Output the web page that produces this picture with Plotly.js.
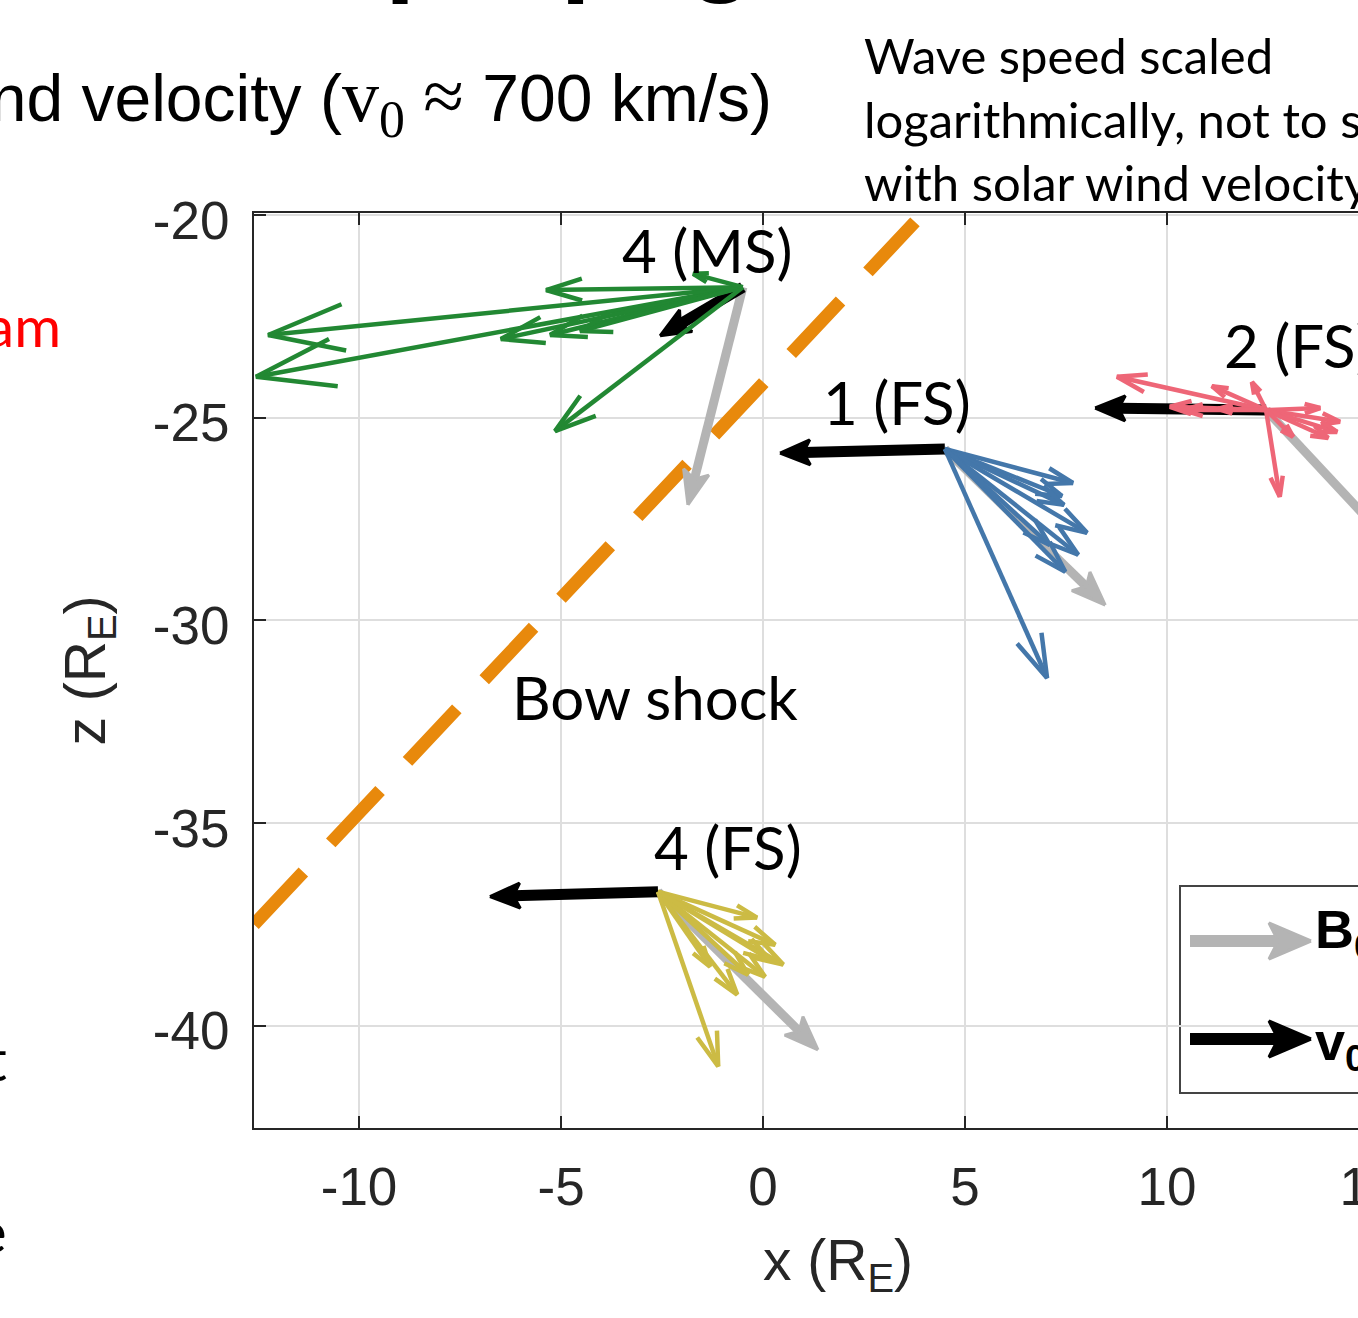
<!DOCTYPE html>
<html><head><meta charset="utf-8">
<script src="https://cdn.plot.ly/plotly-3.0.1.min.js"></script>
<style>html,body{margin:0;padding:0;overflow:hidden;background:#fff}#chart{width:1500px;height:1318px}</style>
</head><body><div id="chart"></div>
<script>
// ---------------- data ----------------
const groupLabels = ['4 (MS)', '1 (FS)', '2 (FS)', '4 (FS)'];
const originX = [-0.5, 4.5, 12.45, -2.6];
const originZ = [-21.78, -25.77, -24.81, -36.69];
const v0TipX = [-2.55, 0.42, 8.22, -6.76];
const v0TipZ = [-22.98, -25.87, -24.76, -36.81];
const bTipX = [-1.86, 8.47, 16.14, 1.36];
const bTipZ = [-27.15, -29.62, -28.75, -40.59];

const ms4WaveX = [-12.55, -12.25, -6.49, -5.27, -4.53, -5.37, -5.15, -1.73];
const ms4WaveZ = [-23.99, -22.96, -23.06, -22.96, -22.86, -21.85, -25.33, -21.45];
const fs1WaveX = [7.67, 7.40, 7.45, 8.02, 7.80, 7.48, 7.10, 7.03];
const fs1WaveZ = [-26.61, -26.93, -27.15, -27.84, -28.38, -28.80, -28.14, -31.42];
const fs2WaveX = [8.76, 11.11, 12.10, 10.07, 10.40, 11.26, 13.79, 14.28, 14.21, 13.99, 13.12, 12.79];
const fs2WaveZ = [-23.99, -24.22, -24.12, -24.73, -24.81, -24.78, -24.76, -25.10, -25.35, -25.50, -25.47, -26.95];
const fs4WaveX = [-0.15, 0.30, 0.50, 0.05, -0.37, -0.64, -1.31, 0.17, -1.11];
const fs4WaveZ = [-37.33, -38.0, -38.49, -38.79, -38.74, -39.23, -38.54, -38.37, -41.0];

const bowX = [-12.6, 3.76];
const bowZ = [-37.5, -20.17];

const xTickVals = [-10, -5, 0, 5, 10, 15];
const xTickText = ['-10', '-5', '0', '5', '10', '15'];
const yTickVals = [-40, -35, -30, -25, -20];
const yTickText = ['-40', '-35', '-30', '-25', '-20'];

const waveColors = ['#228833', '#4477AA', '#EE6677', '#CCBB44'];

// ---------------- geometry helpers ----------------
const W = 1500, H = 1318;
const M = {l: 254, r: 78, t: 213, b: 190};
const xRange = [-12.6, 16.31];
const yRange = [-42.52, -19.95];
const plotW = W - M.l - M.r, plotH = H - M.t - M.b;
const kx = plotW / (xRange[1] - xRange[0]);
const ky = plotH / (yRange[1] - yRange[0]);
const pxToX = px => xRange[0] + (px - M.l) / kx;
const pyToZ = py => yRange[1] - (py - M.t) / ky;
const px2paperX = px => (px - M.l) / plotW;
const py2paperY = py => (H - M.b - py) / plotH;

function thinArrowTrace(ox, oz, tx, tz, color, width) {
  const xs = [], ys = [];
  const a = 17 * Math.PI / 180;
  for (let i = 0; i < tx.length; i++) {
    const dx = (tx[i] - ox) * kx, dy = (tz[i] - oz) * ky;
    const L = Math.hypot(dx, dy);
    const ux = dx / L, uy = dy / L;
    const h = 0.15 * L + 8;
    const bx = -ux, by = -uy;
    const r1x = bx * Math.cos(a) - by * Math.sin(a), r1y = bx * Math.sin(a) + by * Math.cos(a);
    const r2x = bx * Math.cos(-a) - by * Math.sin(-a), r2y = bx * Math.sin(-a) + by * Math.cos(-a);
    xs.push(ox, tx[i], null, tx[i] + h * r1x / kx, tx[i], tx[i] + h * r2x / kx, null);
    ys.push(oz, tz[i], null, tz[i] + h * r1y / ky, tz[i], tz[i] + h * r2y / ky, null);
  }
  return {type: 'scatter', mode: 'lines', x: xs, y: ys, line: {color: color, width: width},
          hoverinfo: 'skip', showlegend: false};
}

function thickArrowTraces(ox, oz, tx, tz, color, shaftW, headL, headW) {
  const dx = (tx - ox) * kx, dy = (tz - oz) * ky;
  const L = Math.hypot(dx, dy);
  const ux = dx / L, uy = dy / L;
  const pxv = -uy, pyv = ux;
  const baseX = tx - headL * ux / kx, baseZ = tz - headL * uy / ky;
  const notchX = tx - 0.78 * headL * ux / kx, notchZ = tz - 0.78 * headL * uy / ky;
  const w1x = baseX + headW / 2 * pxv / kx, w1z = baseZ + headW / 2 * pyv / ky;
  const w2x = baseX - headW / 2 * pxv / kx, w2z = baseZ - headW / 2 * pyv / ky;
  const shaft = {type: 'scatter', mode: 'lines', x: [ox, notchX], y: [oz, notchZ],
    line: {color: color, width: shaftW}, hoverinfo: 'skip', showlegend: false};
  const head = {type: 'scatter', mode: 'lines', x: [tx, w1x, notchX, w2x, tx], y: [tz, w1z, notchZ, w2z, tz],
    fill: 'toself', fillcolor: color, line: {color: color, width: 3}, hoverinfo: 'skip', showlegend: false};
  return [shaft, head];
}

// ---------------- traces ----------------
const traces = [];
traces.push({type: 'scatter', mode: 'lines', x: bowX, y: bowZ,
  line: {color: '#e8890c', width: 13, dash: '72px,40px'}, hoverinfo: 'skip', showlegend: false});

const waveX = [ms4WaveX, fs1WaveX, fs2WaveX, fs4WaveX];
const waveZ = [ms4WaveZ, fs1WaveZ, fs2WaveZ, fs4WaveZ];
for (let g = 0; g < 4; g++) {
  traces.push(...thickArrowTraces(originX[g], originZ[g], bTipX[g], bTipZ[g], '#b4b4b4', 9, 34, 26));
  traces.push(...thickArrowTraces(originX[g], originZ[g], v0TipX[g], v0TipZ[g], '#000000', 11, 30, 25));
  traces.push(thinArrowTrace(originX[g], originZ[g], waveX[g], waveZ[g], waveColors[g], 4.5));
}

// legend sample arrows
traces.push(...thickArrowTraces(pxToX(1190), pyToZ(941), pxToX(1311), pyToZ(941), '#b4b4b4', 12, 42, 36));
traces.push(...thickArrowTraces(pxToX(1190), pyToZ(1039), pxToX(1311), pyToZ(1039), '#000000', 12, 42, 36));

// ---------------- annotations ----------------
const labelFont = {family: 'Lato', size: 60, color: '#000'};
const annotations = [
  {text: groupLabels[0], x: -1.39, y: -20.86, xref: 'x', yref: 'y', showarrow: false, font: labelFont},
  {text: groupLabels[1], x: 3.32, y: -24.61, xref: 'x', yref: 'y', showarrow: false, font: labelFont},
  {text: groupLabels[2], x: 11.36, y: -23.21, xref: 'x', yref: 'y', xanchor: 'left', showarrow: false, font: labelFont},
  {text: groupLabels[3], x: -0.87, y: -35.58, xref: 'x', yref: 'y', showarrow: false, font: labelFont},
  {text: 'Bow shock', x: -2.67, y: -31.88, xref: 'x', yref: 'y', showarrow: false, font: labelFont},
  {text: 'Wave speed scaled<br>logarithmically, not to scale<br>with solar wind velocity', align: 'left',
   x: px2paperX(862), y: py2paperY(24), xref: 'paper', yref: 'paper', xanchor: 'left', yanchor: 'top',
   showarrow: false, font: {family: 'Lato', size: 49, color: '#000'}},
  {text: 'Solar wind velocity (<span style="font-family:Liberation Serif;font-size:74px">v<sub>0</sub> ≈</span> 700 km/s)',
   x: px2paperX(774), y: py2paperY(53), xref: 'paper', yref: 'paper', xanchor: 'right', yanchor: 'top',
   showarrow: false, font: {family: 'Liberation Sans', size: 66, color: '#000'}},
  {text: 'Upstream', x: px2paperX(63), y: py2paperY(289), xref: 'paper', yref: 'paper', xanchor: 'right', yanchor: 'top',
   showarrow: false, font: {family: 'Lato', size: 57, color: '#ff0000'}},
  {text: 't', x: px2paperX(9), y: py2paperY(1022), xref: 'paper', yref: 'paper', xanchor: 'right', yanchor: 'top',
   showarrow: false, font: {family: 'Lato', size: 58, color: '#000'}},
  {text: 'e', x: px2paperX(9), y: py2paperY(1194), xref: 'paper', yref: 'paper', xanchor: 'right', yanchor: 'top',
   showarrow: false, font: {family: 'Lato', size: 58, color: '#000'}},
  {text: '<b>Wave propagation</b>', x: px2paperX(72), y: py2paperY(6), xref: 'paper', yref: 'paper',
   xanchor: 'left', yanchor: 'bottom', showarrow: false, font: {family: 'Liberation Sans', size: 109, color: '#000'}},
  {text: 'x (R<sub>E</sub>)', x: 0.5, y: py2paperY(1226), xref: 'paper', yref: 'paper', xanchor: 'center', yanchor: 'top',
   showarrow: false, font: {family: 'Liberation Sans', size: 57, color: '#262626'}},
  {text: 'z (R<sub>E</sub>)', x: px2paperX(50), y: 0.5, xref: 'paper', yref: 'paper', xanchor: 'left', yanchor: 'middle',
   textangle: -90, showarrow: false, font: {family: 'Liberation Sans', size: 57, color: '#262626'}},
  {text: '<b>B<sub>0</sub></b>', x: px2paperX(1313), y: py2paperY(933), xref: 'paper', yref: 'paper', xanchor: 'left', yanchor: 'middle',
   showarrow: false, font: {family: 'Liberation Sans', size: 54, color: '#000'}},
  {text: '<b>v<sub>0</sub></b>', x: px2paperX(1313), y: py2paperY(1045), xref: 'paper', yref: 'paper', xanchor: 'left', yanchor: 'middle',
   showarrow: false, font: {family: 'Liberation Sans', size: 54, color: '#000'}}
];

const axisCommon = {
  showgrid: true, gridcolor: '#dedede', gridwidth: 2, zeroline: false,
  showline: true, linecolor: '#262626', linewidth: 2, mirror: 'ticks',
  ticks: 'inside', ticklen: 12, tickwidth: 2, tickcolor: '#262626',
  tickfont: {family: 'Liberation Sans', size: 53, color: '#262626'},
  tickmode: 'array', fixedrange: true
};

const layout = {
  width: W, height: H, margin: M, showlegend: false,
  paper_bgcolor: '#fff', plot_bgcolor: '#fff',
  xaxis: Object.assign({}, axisCommon, {range: xRange, tickvals: xTickVals, ticktext: xTickText, ticklabelstandoff: 11}),
  yaxis: Object.assign({}, axisCommon, {range: yRange, tickvals: yTickVals, ticktext: yTickText, ticklabelstandoff: 12, ticklabelshift: 5}),
  shapes: [{type: 'rect', xref: 'paper', yref: 'paper', layer: 'between',
    x0: px2paperX(1180), x1: px2paperX(1480), y0: py2paperY(1093), y1: py2paperY(886),
    line: {color: '#444', width: 2}, fillcolor: '#fff'}],
  annotations: annotations
};

Plotly.newPlot('chart', traces, layout, {staticPlot: true, displayModeBar: false});
</script>
</body></html>
